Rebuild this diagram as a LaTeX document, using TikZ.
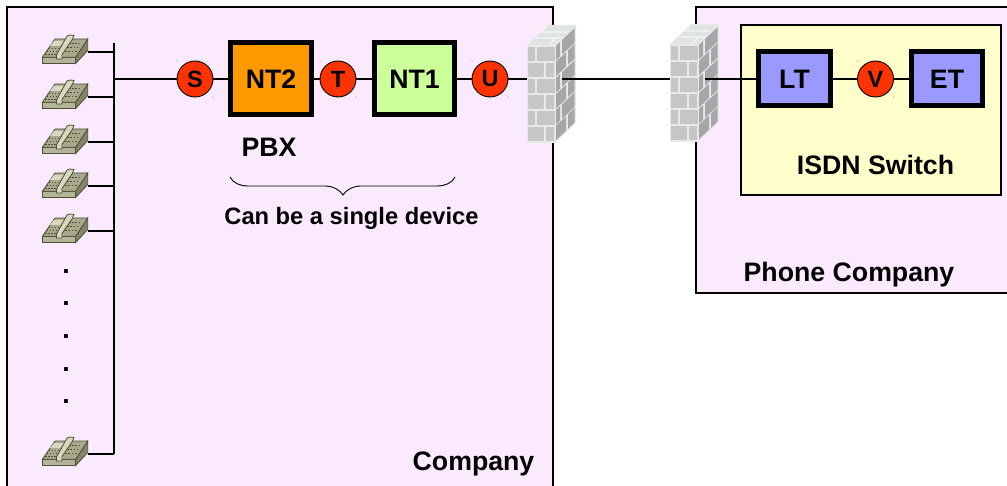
\documentclass[tikz,border=0pt]{standalone}
\usepackage{fontspec}
\setmainfont{Liberation Sans}
\definecolor{zonepink}{HTML}{FBE9FE}
\definecolor{zoneyellow}{HTML}{FFFFCC}
\definecolor{boxblue}{HTML}{9999FF}
\definecolor{boxorange}{HTML}{FF9900}
\definecolor{boxgreen}{HTML}{CCFF99}
\definecolor{refred}{HTML}{FF3300}
\definecolor{mortar}{HTML}{E6EBEA}
\definecolor{brickfront}{HTML}{C6C6C6}
\definecolor{brickside}{HTML}{A6A6A6}
\definecolor{bricktop}{HTML}{E0E3E3}
\definecolor{phonetop}{HTML}{A8A88C}
\definecolor{phonefront}{HTML}{B4B498}
\definecolor{phoneside}{HTML}{84846A}
\definecolor{phoneline}{HTML}{505038}
\definecolor{phonelight}{HTML}{D8D8C0}
\newcommand{\labelfont}{\fontsize{26.7}{28}\selectfont\bfseries}
\newcommand{\smallfont}{\fontsize{23.7}{26}\selectfont\bfseries}
\newcommand{\sidebrick}[4]{\fill[brickside] ({28+#1},{#3-.95*#1}) -- ({28+#2},{#3-.95*#2}) -- ({28+#2},{#4-.95*#2}) -- ({28+#1},{#4-.95*#1}) -- cycle;}
\newcommand{\frontbrick}[4]{\fill[brickfront] (#1,#3) rectangle (#2,#4);}
\newcommand{\firewallshape}[3]{%
\begin{scope}[shift={(#1,#2)}]
  \fill[mortar] (0,0) -- (21,-20) -- (49,-20) -- (49,78) -- (28,98) -- (0,98) -- cycle;
  \fill[bricktop] (2,-.5) -- (21,-18.5) -- (47,-18.5) -- (27,-.5) -- cycle;
  \draw[mortar!40!white,line width=1.4] (9,-7) -- (35,-7) (14,-13) -- (40,-13) (19,-18) -- (13,-13) (28,-7) -- (23,-1);
  \foreach \r/\a/\b/\c/\d in {1.7/1.3/8.3/10/27.5,17.7/1.3/17.3/19.3/27.3,34/1.3/8.3/10/27.5,50/1.3/17.3/19.3/27.3,66/1.3/8.3/10/27.5,81.7/1.3/17.3/19.3/27.3}{%
    \frontbrick{\a}{\b}{\r}{\r+14.5}\frontbrick{\c}{\d}{\r}{\r+14.5}}
  \foreach \r/\a/\b/\c/\d in {1.7/1/5/7/19.5,17.7/1/11/13/19.5,34/1/5/7/19.5,50/1/11/13/19.5,66/1/5/7/19.5,81.7/1/11/13/19.5}{%
    \sidebrick{\a}{\b}{\r}{\r+14.5}\sidebrick{\c}{\d}{\r}{\r+14.5}}
  \coordinate (#3w) at (0,{79-#2});
  \coordinate (#3e) at (35,{79-#2});
\end{scope}}
\newcommand{\phoneshape}[2]{%
\begin{scope}[shift={(42,#1-18)}]
  \fill[phonefront,draw=phoneline,line width=.8] (.3,23.3) -- (33.7,23.3) -- (33.7,29.5) -- (.3,29.5) -- cycle;
  \fill[phoneside,draw=phoneline,line width=.8] (33.7,23.3) -- (45.7,5) -- (45.7,16.5) -- (33.7,29.5) -- cycle;
  \fill[phonetop,draw=phoneline,line width=.8] (.3,23.3) -- (13,5) -- (45.7,5) -- (33.7,23.3) -- cycle;
  \fill[phonelight] (12,7) -- (22,7) -- (18,12) -- (8,12) -- cycle;
  \foreach \i in {0,1,2,3}{\foreach \j in {0,1,2}{%
    \fill[phoneline] ({6.5-\j*1.6+\i*3},{14+\j*3}) rectangle +(1.5,1.3);
    \fill[phoneline] ({27-\j*1.9+\i*3.2},{9+\j*4}) rectangle +(1.7,1.4);}}
  \fill[phonelight,draw=phoneline,line width=.8] (14.5,21) -- (25,2) -- (28,1) -- (32,1.5) -- (30,6) -- (20,20.5) -- (20,25) -- (14.5,25) -- cycle;
  \coordinate (#2) at (46,18);
\end{scope}}
\tikzset{
  px/.style={x=1pt,y=-1pt},
  wire/.style={line width=2,black},
  zoneedge/.style={line width=2.2,black},
  refpoint/.style={circle,draw=black,line width=.9,fill=refred,minimum size=36,inner sep=0,font=\fontsize{23.5}{25}\selectfont\bfseries},
  unitbox/.style={draw=black,line width=5,inner sep=0,font=\labelfont},
  caption/.style={anchor=base,inner sep=0,font=\labelfont},
  speck/.style={fill=gray!80}
}
\begin{document}
\begin{tikzpicture}[px]
\useasboundingbox (0,0) rectangle (1007,486);
\fill[white] (0,0) rectangle (1007,486);
% zones
\fill[zonepink] (7,7) rectangle (553,486);
\draw[zoneedge] (7,486) -- (7,7) -- (553,7) -- (553,486);
\fill[zonepink] (696,7) rectangle (1007,293);
\draw[zoneedge] (1007,7) -- (696,7) -- (696,293) -- (1007,293);
\node[draw=black,line width=1.8,fill=zoneyellow,minimum width=260,minimum height=170,inner sep=0] (switch) at (871,110) {};
% firewalls
\firewallshape{527}{45}{fwa}
\firewallshape{670}{44}{fwb}
% phones
\phoneshape{52}{pa}
\phoneshape{97}{pb}
\phoneshape{142}{pc}
\phoneshape{186}{pd}
\phoneshape{231}{pe}
\phoneshape{454}{pf}
\coordinate (busT) at (114,43);
\coordinate (busB) at (114,454);
% nodes
\node[refpoint] (S) at (195,79) {S};
\node[unitbox,fill=boxorange,minimum width=81,minimum height=72] (NT2) at (271,79) {NT2};
\node[refpoint] (T) at (338,79) {T};
\node[unitbox,fill=boxgreen,minimum width=80,minimum height=72] (NT1) at (414.5,79) {NT1};
\node[refpoint] (U) at (490,79) {U};
\node[unitbox,fill=boxblue,minimum width=72,minimum height=54] (LT) at (794.5,79) {LT};
\node[refpoint] (V) at (875.5,79) {V};
\node[unitbox,fill=boxblue,minimum width=71,minimum height=54] (ET) at (947,79) {ET};
% connectors
\draw[wire] (busT) -- (busB);
\foreach \p in {pa,pb,pc,pd,pe,pf}{\draw[wire] (\p) -- (\p -| busT);}
\draw[wire] (S) -- (S -| busT);
\draw[wire] (S) -- (NT2);
\draw[wire] (NT2) -- (T);
\draw[wire] (T) -- (NT1);
\draw[wire] (NT1) -- (U);
\draw[wire] (U) -- (fwaw);
\draw[wire] (fwae) -- (fwbw);
\draw[wire] (fwbe) -- (LT);
\draw[wire] (LT) -- (V);
\draw[wire] (V) -- (ET);
% specks beside the reference points
\foreach \c in {S,T,U,V}{%
  \fill[speck] ([shift={(-18,-18)}]\c.center) circle (.6);
  \fill[speck] ([shift={(18,18)}]\c.center) circle (.6);}
% brace
\draw[line width=.9,black] (230,177) .. controls (233,183) and (240,186) .. (248,186) -- (325,186) .. controls (333,186) and (340,190) .. (343,195) .. controls (346,190) and (353,186) .. (361,186) -- (437,186) .. controls (445,186) and (452,183) .. (455,177);
% captions
\node[caption] (pbx) at (269,157) {PBX};
\node[caption,font=\smallfont] (single) at (351.5,225) {Can be a single device};
\node[caption] (company) at (473.5,470) {Company};
\node[caption] (isdn) at (875.5,175) {ISDN Switch};
\node[caption] (phoneco) at (849,282) {Phone Company};
\foreach \y/\n in {270/a,302/b,334/c,367/d,399/e}{\node[caption] (dot\n) at (66,\y+4) {.};}
\end{tikzpicture}
\end{document}
